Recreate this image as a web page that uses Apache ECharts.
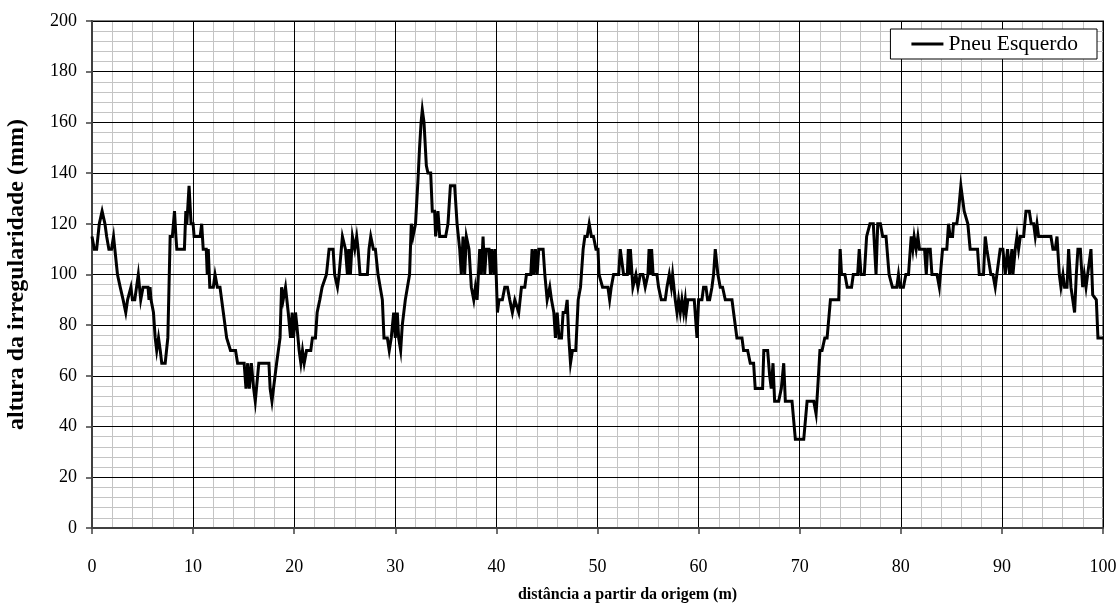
<!DOCTYPE html>
<html>
<head>
<meta charset="utf-8">
<script src="https://cdn.jsdelivr.net/npm/echarts@6/dist/echarts.min.js"></script>
<style>
  html, body { margin: 0; padding: 0; background: #ffffff; }
  #chart { width: 1120px; height: 605px; }
</style>
</head>
<body>
<div id="chart"></div>
<script>
// Perfil de irregularidade medido sob o pneu esquerdo
const distancia = [
  0, 0.23, 0.46, 0.72, 1.0, 1.28, 1.45, 1.67, 1.93, 2.13, 2.26, 2.52, 2.79, 3.08, 3.34, 3.52, 3.85, 4.0, 4.23, 4.58,
  4.82, 5.05, 5.54, 5.64, 5.74, 5.84, 6.08, 6.25, 6.4, 6.58, 6.75, 6.9, 7.24, 7.5, 7.73, 7.95, 8.16, 8.3, 8.39, 9.14,
  9.28, 9.38, 9.6, 9.8, 10.0, 10.1, 10.7, 10.85, 11.0, 11.3, 11.4, 11.5, 11.65, 12.0, 12.17, 12.4, 12.66, 12.99, 13.32, 13.7,
  14.2, 14.4, 15.05, 15.23, 15.4, 15.56, 15.76, 15.99, 16.15, 16.32, 16.5, 17.5, 17.62, 17.8, 17.95, 18.05, 18.26, 18.6, 18.75, 18.91,
  19.14, 19.41, 19.64, 19.8, 19.93, 20.13, 20.26, 20.49, 20.66, 20.82, 20.99, 21.22, 21.64, 21.8, 22.1, 22.27, 22.53, 22.76, 23.19, 23.36,
  23.45, 23.85, 24.0, 24.28, 24.44, 24.77, 25.07, 25.26, 25.39, 25.56, 25.76, 25.99, 26.18, 26.32, 26.51, 27.24, 27.4, 27.57, 27.83, 28.03,
  28.29, 28.72, 28.88, 29.21, 29.4, 29.6, 29.84, 30.0, 30.2, 30.33, 30.53, 30.69, 30.99, 31.41, 31.58, 31.75, 32.0, 32.24, 32.4, 32.55,
  32.67, 32.84, 33.07, 33.23, 33.5, 33.66, 33.89, 33.99, 34.22, 34.39, 34.98, 35.21, 35.45, 35.87, 36.11, 36.37, 36.53, 36.7, 36.86, 37.03,
  37.29, 37.52, 37.76, 37.92, 38.09, 38.22, 38.35, 38.51, 38.68, 38.84, 39.0, 39.27, 39.41, 39.57, 39.74, 39.9, 40.1, 40.26, 40.59, 40.83,
  41.09, 41.32, 41.58, 41.82, 41.98, 42.21, 42.48, 42.81, 42.97, 43.4, 43.53, 43.7, 43.86, 44.03, 44.19, 44.62, 44.79, 45.02, 45.28, 45.45,
  45.68, 45.84, 46.01, 46.2, 46.44, 46.6, 46.83, 47.0, 47.16, 47.33, 47.52, 47.85, 48.09, 48.32, 48.58, 48.75, 48.98, 49.18, 49.4, 49.6,
  49.85, 50.05, 50.15, 50.27, 50.5, 51.03, 51.2, 51.36, 51.59, 52.09, 52.25, 52.4, 52.58, 52.95, 53.05, 53.15, 53.25, 53.38, 53.5, 53.8,
  54.0, 54.23, 54.49, 54.72, 54.99, 55.1, 55.25, 55.35, 55.5, 55.88, 56.04, 56.31, 56.7, 56.87, 57.1, 57.3, 57.43, 57.69, 57.86, 58.02,
  58.19, 58.35, 58.52, 58.68, 58.78, 58.94, 59.57, 59.84, 60.0, 60.33, 60.49, 60.73, 60.89, 61.09, 61.32, 61.48, 61.65, 61.75, 61.91, 62.14,
  62.37, 62.64, 63.3, 63.46, 63.79, 64.29, 64.45, 64.85, 65.11, 65.44, 65.6, 66.33, 66.45, 66.83, 67.03, 67.19, 67.36, 67.52, 67.92, 68.18,
  68.3, 68.42, 68.58, 69.24, 69.57, 70.4, 70.73, 71.39, 71.62, 71.78, 72.0, 72.21, 72.48, 72.71, 73.04, 73.86, 74.0, 74.14, 74.47, 74.7,
  75.13, 75.3, 75.73, 75.89, 76.06, 76.39, 76.62, 76.95, 77.28, 77.55, 77.72, 77.98, 78.21, 78.54, 78.84, 79.17, 79.6, 79.77, 79.93, 80.26,
  80.5, 80.76, 81.03, 81.19, 81.32, 81.52, 81.69, 81.85, 82.35, 82.52, 82.65, 82.91, 83.08, 83.58, 83.81, 84.13, 84.55, 84.72, 84.88, 85.12,
  85.21, 85.54, 85.71, 85.94, 86.11, 86.27, 86.44, 86.63, 86.86, 87.59, 87.76, 88.18, 88.35, 88.51, 88.68, 88.91, 89.11, 89.34, 89.5, 89.67,
  89.83, 90.1, 90.33, 90.56, 90.76, 90.99, 91.09, 91.32, 91.49, 91.65, 91.82, 92.15, 92.38, 92.71, 92.9, 93.14, 93.3, 93.47, 93.63, 94.85,
  95.05, 95.28, 95.45, 95.68, 95.84, 96.04, 96.2, 96.44, 96.6, 96.83, 97.0, 97.19, 97.36, 97.52, 97.76, 97.99, 98.15, 98.32, 98.48, 98.65,
  98.81, 98.98, 99.34, 99.5, 100
];

const altura = [
  115, 110, 110, 120, 125, 120, 115, 110, 110, 115, 110, 100, 95, 90, 85, 90, 95, 90, 90, 100,
  90, 95, 95, 90, 95, 90, 85, 75, 70, 75, 70, 65, 65, 75, 115, 115, 125, 115, 110, 110,
  125, 120, 135, 120, 120, 115, 115, 120, 110, 110, 100, 110, 95, 95, 100, 95, 95, 85, 75, 70,
  70, 65, 65, 55, 65, 55, 65, 55, 50, 50, 65, 65, 55, 50, 55, 55, 65, 75, 95, 90,
  95, 85, 75, 85, 75, 85, 80, 70, 65, 70, 65, 70, 70, 75, 75, 85, 90, 95, 100, 100,
  110, 110, 100, 95, 100, 115, 110, 100, 110, 100, 115, 110, 115, 110, 100, 100, 110, 115, 110, 110,
  100, 90, 75, 75, 70, 75, 85, 75, 85, 75, 70, 80, 90, 100, 120, 115, 120, 137, 150, 160,
  165, 160, 143, 140, 140, 125, 125, 115, 125, 115, 115, 120, 135, 135, 120, 110, 100, 115, 100, 115,
  110, 95, 90, 95, 90, 90, 110, 100, 115, 100, 110, 110, 100, 110, 100, 110, 85, 90, 90, 95,
  95, 90, 85, 90, 90, 85, 95, 95, 100, 100, 110, 100, 110, 100, 110, 110, 100, 90, 95, 90,
  85, 75, 85, 75, 75, 85, 85, 90, 75, 65, 70, 70, 90, 95, 110, 115, 115, 120, 115, 115,
  110, 110, 100, 100, 95, 95, 90, 95, 100, 100, 110, 110, 100, 100, 110, 100, 110, 110, 95, 100,
  95, 100, 100, 95, 100, 110, 100, 110, 100, 100, 95, 90, 90, 95, 100, 95, 100, 90, 85, 90,
  85, 90, 85, 90, 85, 90, 90, 75, 90, 90, 95, 95, 90, 90, 95, 100, 110, 110, 100, 95,
  95, 90, 90, 85, 75, 75, 70, 70, 65, 65, 55, 55, 70, 70, 60, 55, 65, 50, 50, 55,
  55, 65, 50, 50, 35, 35, 50, 50, 45, 55, 70, 70, 75, 75, 90, 90, 110, 100, 100, 95,
  95, 100, 100, 110, 100, 100, 115, 120, 120, 100, 120, 120, 115, 115, 100, 95, 95, 100, 95, 95,
  100, 100, 115, 110, 115, 110, 115, 110, 110, 100, 110, 110, 100, 100, 95, 110, 110, 120, 115, 115,
  120, 120, 125, 135, 135, 125, 125, 120, 110, 110, 100, 100, 115, 110, 110, 100, 100, 95, 100, 100,
  110, 110, 100, 110, 100, 110, 100, 110, 115, 110, 115, 115, 125, 125, 120, 120, 115, 120, 115, 115,
  110, 110, 115, 100, 95, 100, 95, 95, 110, 95, 95, 85, 100, 110, 110, 95, 100, 95, 100, 100,
  110, 92, 90, 75, 75
];

const nomeSerie = 'Pneu Esquerdo';
const tituloX = 'distância a partir da origem (m)';
const tituloY = 'altura da irregularidade (mm)';
const limitesX = [0, 100, 10, 2];   // min, max, intervalo principal, intervalo secundário
const limitesY = [0, 200, 20, 4];

const fonte = "'Liberation Serif', 'Times New Roman', serif";
const pontos = distancia.map((d, i) => [d, altura[i]]);

// eixo principal: linha, marcas, rótulos e grade preta
function eixoPrincipal(lim, extra) {
  return Object.assign({
    type: 'value',
    min: lim[0], max: lim[1], interval: lim[2],
    z: 2,
    axisLine: { show: true, onZero: false, lineStyle: { color: '#404040', width: 2 } },
    axisTick: { show: true, inside: false, length: 6, lineStyle: { color: '#404040', width: 1.5 } },
    splitLine: { show: true, lineStyle: { color: '#000000', width: 1 } },
    nameLocation: 'middle',
    nameTextStyle: { color: '#000', fontFamily: fonte, fontSize: 16, fontWeight: 'bold' }
  }, extra);
}

// eixo auxiliar só para a grade secundária cinza
function eixoGrade(lim, extra) {
  return Object.assign({
    type: 'value',
    min: lim[0], max: lim[1], interval: lim[3],
    z: 0,
    axisLine: { show: false },
    axisTick: { show: false },
    axisLabel: { show: false },
    splitLine: { show: true, showMinLine: false, showMaxLine: false, lineStyle: { color: '#c4c4c4', width: 1 } }
  }, extra);
}

const chart = echarts.init(document.getElementById('chart'), null, { renderer: 'canvas' });
chart.setOption({
  animation: false,
  backgroundColor: '#ffffff',
  grid: {
    left: 92, right: 17, top: 21, bottom: 77,
    containLabel: false,
    outerBoundsMode: 'none',
    show: true, borderColor: '#808080', borderWidth: 2, backgroundColor: 'transparent'
  },
  legend: {
    data: [nomeSerie],
    right: 23, top: 29,
    backgroundColor: '#ffffff',
    borderColor: '#000000', borderWidth: 1, borderRadius: 0,
    padding: [4, 19, 4, 21],
    icon: 'rect',
    itemWidth: 32, itemHeight: 3, itemGap: 6,
    textStyle: { color: '#000', fontFamily: fonte, fontSize: 21.5 }
  },
  xAxis: [
    eixoPrincipal(limitesX, {
      name: tituloX, nameGap: 59,
      nameTextStyle: { color: '#000', fontFamily: fonte, fontSize: 16, fontWeight: 'bold', padding: [0, 0, 0, 60] },
      axisLabel: { color: '#000', fontFamily: fonte, fontSize: 18, margin: 30 }
    }),
    eixoGrade(limitesX, { position: 'bottom' })
  ],
  yAxis: [
    eixoPrincipal(limitesY, {
      name: tituloY, nameGap: 63,
      nameTextStyle: { color: '#000', fontFamily: fonte, fontSize: 24, fontWeight: 'bold' },
      axisLabel: { color: '#000', fontFamily: fonte, fontSize: 18, margin: 15 }
    }),
    eixoGrade(limitesY, { position: 'left' })
  ],
  series: [{
    name: nomeSerie,
    type: 'line',
    xAxisIndex: 0, yAxisIndex: 0,
    data: pontos,
    symbol: 'none',
    smooth: false,
    z: 3,
    lineStyle: { color: '#000000', width: 3, join: 'miter' },
    itemStyle: { color: '#000000' }
  }]
});
</script>
</body>
</html>
